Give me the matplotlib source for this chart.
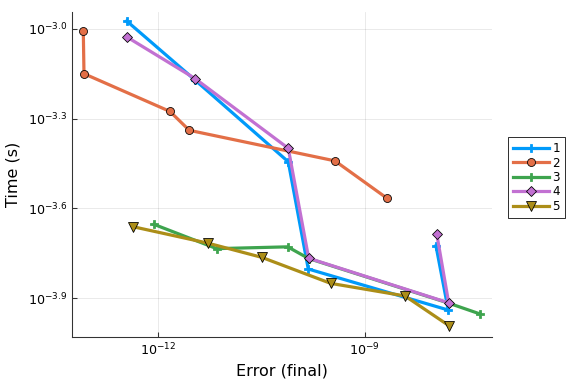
import numpy as np
import matplotlib
matplotlib.use("Agg")
import matplotlib.pyplot as plt
from matplotlib.ticker import FixedLocator, NullLocator, FuncFormatter

# log10 of final error and of time (s)
err1 = [-12.454, -11.463, -10.109, -9.819, -7.787, -7.965]
time1 = [-2.974, -3.171, -3.444, -3.802, -3.939, -3.725]

err2 = [-13.084, -13.074, -11.826, -11.546, -9.431, -8.681]
time2 = [-3.008, -3.150, -3.276, -3.339, -3.441, -3.565]

err3 = [-12.058, -11.148, -10.118, -9.813, -7.781, -7.327]
time3 = [-3.653, -3.734, -3.728, -3.767, -3.916, -3.952]

err4 = [-12.454, -11.463, -10.109, -9.813, -7.781, -7.955]
time4 = [-3.027, -3.166, -3.399, -3.766, -3.915, -3.684]

err5 = [-12.358, -11.270, -10.495, -9.493, -8.415, -7.772]
time5 = [-3.661, -3.716, -3.763, -3.850, -3.892, -3.992]

labels = ["1", "2", "3", "4", "5"]
colors = ["#009AFA", "#E36F47", "#3EA44E", "#C271D2", "#AC8E18"]
markers = ["P", "o", "P", "D", "v"]
msizes = [5.5, 6, 5.5, 5, 7]

xticks = [-12, -9]
yticks = [-3.0, -3.3, -3.6, -3.9]

fig = plt.figure(figsize=(6, 4), dpi=96)
ax = fig.add_axes([0.125, 0.1232, 0.7286, 0.8463])

series = [(err1, time1), (err2, time2), (err3, time3), (err4, time4), (err5, time5)]
for i, (e, t) in enumerate(series):
    ec = colors[i] if markers[i] == "P" else "black"
    ax.plot(10.0 ** np.array(e), 10.0 ** np.array(t), color=colors[i], lw=2.4,
            marker=markers[i], ms=msizes[i], mfc=colors[i], mec=ec, mew=0.6,
            label=labels[i])

ax.set_xscale("log")
ax.set_yscale("log")
ax.set_xlim(10 ** -13.248, 10 ** -7.157)
ax.set_ylim(10 ** -4.028, 10 ** -2.943)

ax.xaxis.set_major_locator(FixedLocator([10.0 ** v for v in xticks]))
ax.yaxis.set_major_locator(FixedLocator([10.0 ** v for v in yticks]))
ax.xaxis.set_minor_locator(NullLocator())
ax.yaxis.set_minor_locator(NullLocator())
ax.xaxis.set_major_formatter(FuncFormatter(lambda v, p: r"$10^{%d}$" % round(np.log10(v))))
ax.yaxis.set_major_formatter(FuncFormatter(lambda v, p: r"$10^{%.1f}$" % np.log10(v)))

ax.grid(True, color="black", alpha=0.1, lw=0.6)
ax.tick_params(direction="in", length=4, labelsize=9.5, width=0.8, color="#333333")
ax.spines["top"].set_visible(False)
ax.spines["right"].set_visible(False)
ax.spines["left"].set_color("#333333")
ax.spines["bottom"].set_color("#333333")

ax.set_xlabel("Error (final)", fontsize=12)
ax.set_ylabel("Time (s)", fontsize=12, labelpad=6)

leg = ax.legend(loc="center left", bbox_to_anchor=(1.025, 0.49), fontsize=9,
                handlelength=3.0, handletextpad=0.3, labelspacing=0.12,
                borderpad=0.4, fancybox=False, framealpha=1)
leg.get_frame().set_edgecolor("black")
leg.get_frame().set_linewidth(0.6)

fig.savefig("out.png", dpi=96)
